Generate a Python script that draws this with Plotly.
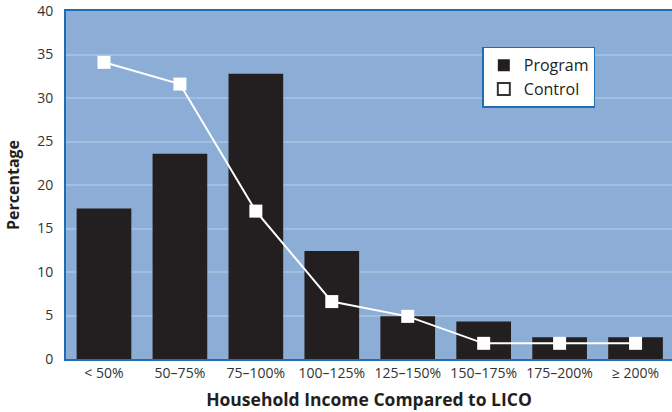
import plotly.graph_objects as go

categories = ["< 50%", "50–75%", "75–100%", "100–125%", "125–150%", "150–175%", "175–200%", "≥ 200%"]
program = [17.3, 23.6, 32.8, 12.4, 4.9, 4.3, 2.5, 2.5]
control = [34.1, 31.6, 17.0, 6.6, 4.9, 1.8, 1.8, 1.8]
y_ticks = [0, 5, 10, 15, 20, 25, 30, 35, 40]

FONT = "Open Sans"
BLUE = "#1f6db3"

fig = go.Figure()
fig.add_trace(go.Bar(x=categories, y=program, marker=dict(color="#231f20", line=dict(width=0)),
                     width=0.72, showlegend=False, name="Program"))
fig.add_trace(go.Scatter(x=categories, y=control, mode="lines+markers",
                         line=dict(color="white", width=2),
                         marker=dict(symbol="square", size=13, color="white"),
                         showlegend=False, name="Control"))
# legend entries
fig.add_trace(go.Scatter(x=[None], y=[None], mode="markers", name="Program",
                         marker=dict(symbol="square", size=9, color="#231f20")))
fig.add_trace(go.Scatter(x=[None], y=[None], mode="markers", name="Control",
                         marker=dict(symbol="square", size=9, color="white",
                                     line=dict(color="#333333", width=1))))

fig.update_layout(
    width=672, height=412,
    margin=dict(l=66, r=0, t=11, b=53),
    paper_bgcolor="white", plot_bgcolor="#8caed6",
    font=dict(family=FONT, color="#333333", size=14),
    bargap=0.28,
    legend=dict(x=0.687, y=0.897, xanchor="left", yanchor="top",
                bgcolor="white", bordercolor=BLUE, borderwidth=1.5,
                font=dict(family=FONT, size=16, color="#231f20"),
                itemsizing="constant", tracegroupgap=0,
                entrywidth=90),
)
fig.update_xaxes(
    type="category", range=[-0.5, 7.48], showgrid=False,
    showline=True, linecolor=BLUE, linewidth=2, mirror=True,
    ticks="", tickfont=dict(size=14, color="#333333"),
    title=dict(text="<b>Household Income Compared to LICO</b>",
               font=dict(size=17.5, color="#231f20"), standoff=13),
)
fig.update_yaxes(
    range=[0, 40], tickvals=y_ticks, showgrid=True, gridcolor="#a3bfe0", gridwidth=1.5,
    showline=True, linecolor=BLUE, linewidth=2, mirror=False, zeroline=False,
    ticks="", ticklabelstandoff=8, tickfont=dict(size=14, color="#333333"),
    title=dict(text="<b>Percentage</b>", font=dict(size=16, color="#231f20"), standoff=14),
)

fig.write_html("out.html")
